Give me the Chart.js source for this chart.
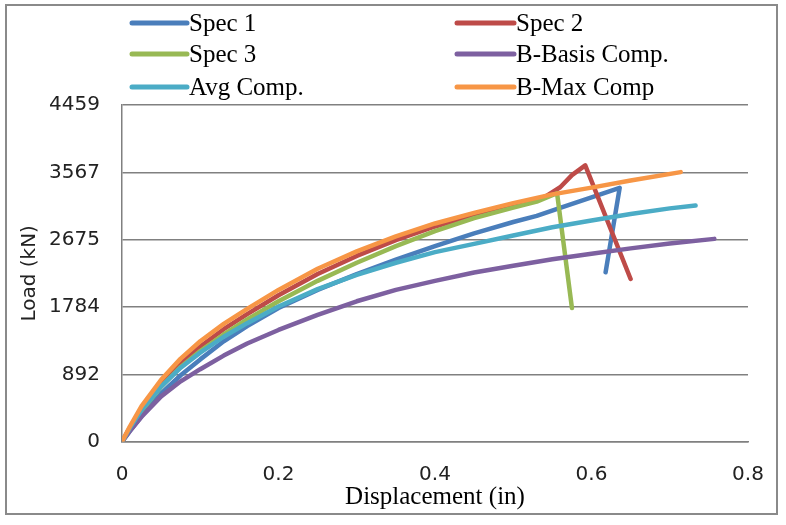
<!DOCTYPE html>
<html>
<head>
<meta charset="utf-8">
<script src="https://cdn.jsdelivr.net/npm/chart.js@4"></script>
<style>
    html, body { margin: 0; padding: 0; background: #fff; }
    #wrap { width: 786px; height: 525px; }
</style>
</head>
<body>
<div id="wrap"><canvas id="load-chart" width="786" height="525"></canvas></div>
<script>
// displacement (in) / load (kN) per curve
const spec1Disp = [0, 0.01, 0.025, 0.05, 0.075, 0.1, 0.13, 0.16, 0.2, 0.25, 0.3, 0.35, 0.4, 0.45, 0.5, 0.53, 0.56, 0.6, 0.636, 0.618];
const spec1Load = [0, 140, 340, 640, 880, 1090, 1330, 1530, 1770, 2010, 2220, 2410, 2590, 2760, 2910, 2990, 3098, 3235, 3363, 2243];

const spec2Disp = [0, 0.01, 0.025, 0.05, 0.075, 0.1, 0.13, 0.16, 0.2, 0.25, 0.3, 0.35, 0.4, 0.45, 0.5, 0.54, 0.56, 0.575, 0.592, 0.65];
const spec2Load = [0, 185, 440, 770, 1040, 1260, 1490, 1690, 1940, 2220, 2460, 2670, 2850, 3000, 3130, 3240, 3370, 3530, 3659, 2155];

const spec3Disp = [0, 0.01, 0.025, 0.05, 0.075, 0.1, 0.13, 0.16, 0.2, 0.25, 0.3, 0.35, 0.4, 0.45, 0.5, 0.53, 0.556, 0.575];
const spec3Load = [0, 170, 410, 730, 990, 1200, 1420, 1620, 1860, 2130, 2370, 2590, 2790, 2960, 3100, 3180, 3290, 1770];

const bBasisDisp = [0, 0.01, 0.025, 0.05, 0.075, 0.1, 0.13, 0.16, 0.2, 0.25, 0.3, 0.35, 0.4, 0.45, 0.5, 0.55, 0.6, 0.65, 0.7, 0.757];
const bBasisLoad = [0, 140, 330, 600, 800, 960, 1140, 1300, 1480, 1680, 1860, 2010, 2130, 2240, 2330, 2415, 2490, 2560, 2625, 2686];

const avgDisp = [0, 0.01, 0.025, 0.05, 0.075, 0.1, 0.13, 0.16, 0.2, 0.25, 0.3, 0.35, 0.4, 0.45, 0.5, 0.55, 0.6, 0.65, 0.7, 0.733];
const avgLoad = [0, 180, 420, 730, 980, 1180, 1390, 1570, 1790, 2020, 2210, 2370, 2510, 2620, 2730, 2840, 2930, 3015, 3090, 3128];

const bMaxDisp = [0, 0.01, 0.025, 0.05, 0.075, 0.1, 0.13, 0.16, 0.2, 0.25, 0.3, 0.35, 0.4, 0.45, 0.5, 0.55, 0.6, 0.65, 0.714];
const bMaxLoad = [0, 200, 470, 820, 1100, 1330, 1560, 1760, 2010, 2290, 2520, 2720, 2890, 3030, 3160, 3275, 3365, 3460, 3570];

const seriesNames = ['Spec 1', 'Spec 2', 'Spec 3', 'B-Basis Comp.', 'Avg Comp.', 'B-Max Comp'];
const seriesColors = ['#4a7ebb', '#be4b48', '#98b954', '#7d60a0', '#4bacc6', '#f79646'];

const loadTicks = [0, 892, 1784, 2675, 3567, 4459];
const dispTicks = [0, 0.2, 0.4, 0.6, 0.8];

document.addEventListener('DOMContentLoaded', function () {
    const canvas = document.getElementById('load-chart');

    function toPoints(xs, ys) {
        return xs.map((x, i) => ({ x: x, y: ys[i] }));
    }

    const curves = [
        toPoints(spec1Disp, spec1Load),
        toPoints(spec2Disp, spec2Load),
        toPoints(spec3Disp, spec3Load),
        toPoints(bBasisDisp, bBasisLoad),
        toPoints(avgDisp, avgLoad),
        toPoints(bMaxDisp, bMaxLoad)
    ];

    // white background + thin frame round the whole chart
    const framePlugin = {
        id: 'frame',
        beforeDraw(chart) {
            const ctx = chart.ctx;
            ctx.save();
            ctx.fillStyle = '#fff';
            ctx.fillRect(0, 0, chart.width, chart.height);
            ctx.strokeStyle = '#8a8a8a';
            ctx.lineWidth = 2;
            ctx.strokeRect(6, 5, 771, 509);
            ctx.restore();
        }
    };

    // two-column legend above the plot
    const legendPlugin = {
        id: 'twoColLegend',
        afterDraw(chart) {
            const ctx = chart.ctx;
            const cols = [[132, 187], [457, 514]];
            const rows = [23, 54, 87];
            ctx.save();
            ctx.font = '25px "Liberation Serif"';
            ctx.textBaseline = 'middle';
            ctx.lineCap = 'round';
            chart.data.datasets.forEach((ds, i) => {
                const c = cols[i % 2];
                const y = rows[Math.floor(i / 2)];
                ctx.strokeStyle = ds.borderColor;
                ctx.lineWidth = 5;
                ctx.beginPath();
                ctx.moveTo(c[0], y);
                ctx.lineTo(c[1], y);
                ctx.stroke();
                ctx.fillStyle = '#000';
                ctx.fillText(ds.label, c[1] + 2, y + 1);
            });
            ctx.restore();
        }
    };

    new Chart(canvas, {
        type: 'line',
        data: {
            datasets: curves.map((pts, i) => ({
                label: seriesNames[i],
                data: pts,
                borderColor: seriesColors[i],
                backgroundColor: seriesColors[i],
                borderWidth: 4.5,
                borderCapStyle: 'round',
                borderJoinStyle: 'round',
                pointRadius: 0,
                tension: 0,
                fill: false,
                order: seriesNames.length - i
            }))
        },
        options: {
            responsive: false,
            animation: false,
            layout: { padding: { top: 105, right: 38, left: 0, bottom: 0 } },
            plugins: {
                legend: { display: false },
                tooltip: { enabled: false }
            },
            scales: {
                x: {
                    type: 'linear',
                    min: 0,
                    max: 0.8,
                    afterBuildTicks: scale => { scale.ticks = dispTicks.map(v => ({ value: v })); },
                    afterFit: scale => { scale.height = 83.3; },
                    grid: { display: false, drawTicks: false },
                    border: { display: true, color: '#808080', width: 1.5 },
                    ticks: {
                        padding: 21,
                        color: '#222',
                        font: { family: 'DejaVu Sans', size: 20 },
                        callback: v => String(v)
                    },
                    title: {
                        display: true,
                        text: 'Displacement (in)',
                        color: '#000',
                        font: { family: 'Liberation Serif', size: 25 },
                        padding: { top: 0, bottom: 13 }
                    }
                },
                y: {
                    type: 'linear',
                    min: 0,
                    max: 4459,
                    afterBuildTicks: scale => { scale.ticks = loadTicks.map(v => ({ value: v })); },
                    afterFit: scale => { scale.width = 122; },
                    grid: { color: '#808080', lineWidth: 1.5, drawTicks: false },
                    border: { display: true, color: '#808080', width: 1.5 },
                    ticks: {
                        padding: 22,
                        color: '#222',
                        font: { family: 'DejaVu Sans', size: 20 },
                        callback: v => String(v)
                    },
                    title: {
                        display: true,
                        text: 'Load (kN)',
                        color: '#222',
                        font: { family: 'DejaVu Sans', size: 20 },
                        padding: { top: 18, bottom: 0 }
                    }
                }
            }
        },
        plugins: [framePlugin, legendPlugin]
    });
});
</script>
</body>
</html>
